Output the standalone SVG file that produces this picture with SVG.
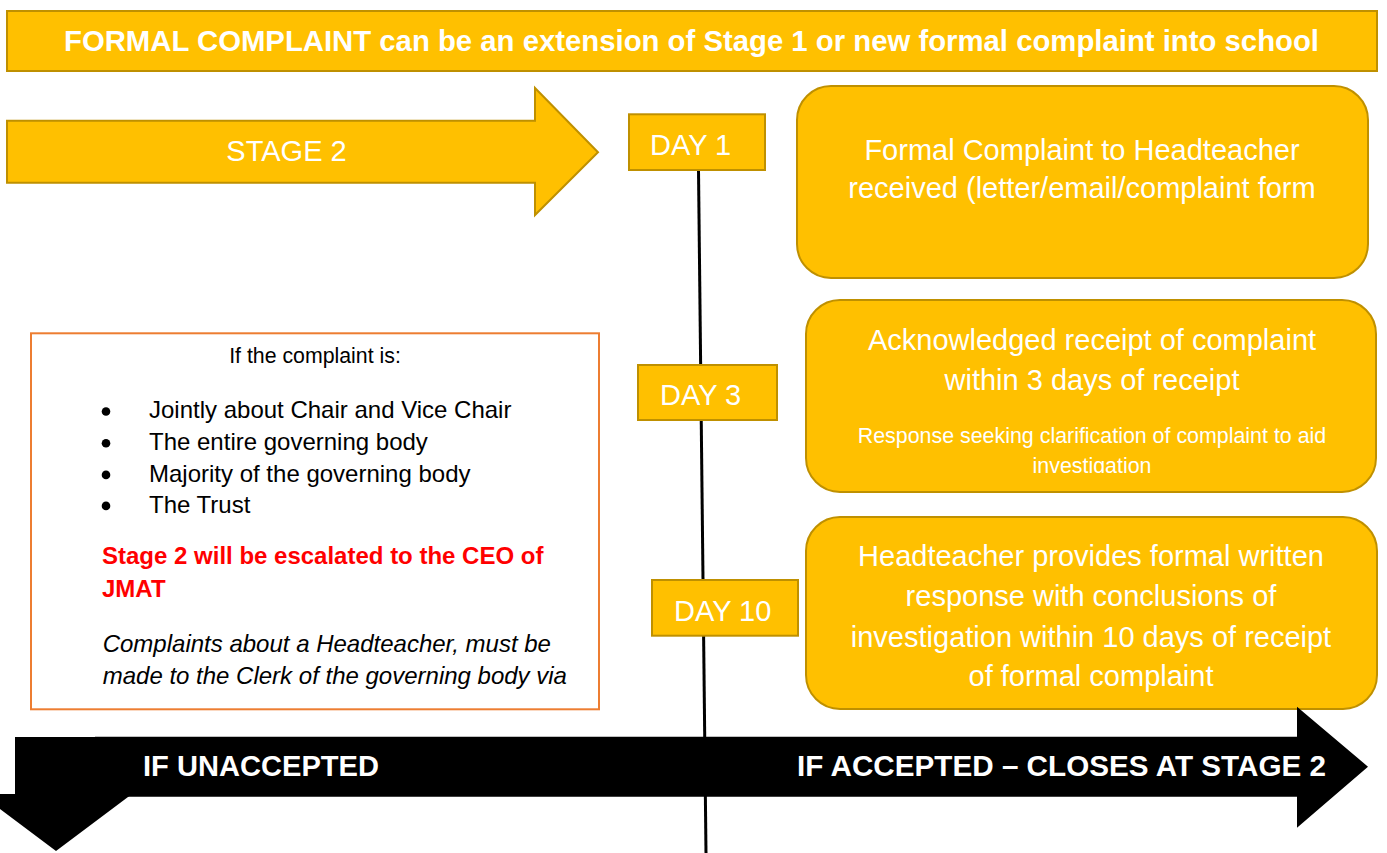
<svg xmlns="http://www.w3.org/2000/svg" width="1387" height="853" viewBox="0 0 1387 853">
<style>
.y{fill:#FFC000;stroke:#BF9000;stroke-width:2}
.w{fill:#FFFFFF;font-family:"Liberation Sans",Arial,sans-serif}
.big{font-size:29px}
.bd{font-weight:bold}
.k{fill:#000000;font-family:"Liberation Sans",Arial,sans-serif}
</style>
<defs>
<clipPath id="clip2"><rect x="806" y="300" width="570" height="173"/></clipPath>
</defs>
<rect width="1387" height="853" fill="#FFFFFF"/>

<g id="connectors">
<line x1="698.5" y1="170" x2="706" y2="853" stroke="#000000" stroke-width="3"/>
</g>

<g id="banner">
<rect class="y" x="7" y="11" width="1370" height="60"/>
<text class="w bd" x="64" y="50.5" font-size="29" textLength="1255" lengthAdjust="spacingAndGlyphs">FORMAL COMPLAINT can be an extension of Stage 1 or new formal complaint into school</text>
</g>

<g id="stage2">
<path class="y" d="M7,120.7 H535 V88 L598,152.3 L535,215 V182.7 H7 Z"/>
<text class="w big" x="286.5" y="160.7" text-anchor="middle">STAGE 2</text>
</g>

<g id="day1">
<rect class="y" x="629" y="114.3" width="136" height="55.7"/>
<text class="w big" x="650" y="155">DAY 1</text>
</g>

<g id="box1">
<rect class="y" x="797" y="86" width="571" height="192" rx="34" ry="34"/>
<text class="w big" x="1082" y="160" text-anchor="middle">Formal Complaint to Headteacher</text>
<text class="w big" x="1082" y="198.3" text-anchor="middle">received (letter/email/complaint form</text>
</g>

<g id="day3">
<rect class="y" x="638" y="365" width="139" height="55"/>
<text class="w big" x="660" y="405">DAY 3</text>
</g>

<g id="box2">
<rect class="y" x="806" y="300" width="570" height="192" rx="34" ry="34"/>
<text class="w big" x="1092" y="350" text-anchor="middle">Acknowledged receipt of complaint</text>
<text class="w big" x="1092" y="390" text-anchor="middle">within 3 days of receipt</text>
<g clip-path="url(#clip2)">
<text class="w" font-size="21.4" x="1092" y="443.3" text-anchor="middle">Response seeking clarification of complaint to aid</text>
<text class="w" font-size="21.4" x="1092" y="472.7" text-anchor="middle">investigation</text>
</g>
</g>

<g id="day10">
<rect class="y" x="652" y="580" width="146" height="55.7"/>
<text class="w big" x="674" y="620.7">DAY 10</text>
</g>

<g id="box3">
<rect class="y" x="806" y="517" width="571" height="192" rx="34" ry="34"/>
<text class="w big" x="1091" y="565.7" text-anchor="middle">Headteacher provides formal written</text>
<text class="w big" x="1091" y="606" text-anchor="middle">response with conclusions of</text>
<text class="w big" x="1091" y="646.7" text-anchor="middle">investigation within 10 days of receipt</text>
<text class="w big" x="1091" y="685.7" text-anchor="middle">of formal complaint</text>
</g>

<g id="info">
<rect x="31" y="333.3" width="568" height="376" fill="#FFFFFF" stroke="#ED7D31" stroke-width="2"/>
<text class="k" font-size="21.3" x="315" y="363.3" text-anchor="middle">If the complaint is:</text>
<g fill="#000000">
<circle cx="106" cy="411.5" r="4.3"/>
<circle cx="106" cy="443.2" r="4.3"/>
<circle cx="106" cy="474.9" r="4.3"/>
<circle cx="106" cy="505.9" r="4.3"/>
</g>
<text class="k" font-size="24" x="149" y="418.3">Jointly about Chair and Vice Chair</text>
<text class="k" font-size="24" x="149" y="450">The entire governing body</text>
<text class="k" font-size="24" x="149" y="481.7">Majority of the governing body</text>
<text class="k" font-size="24" x="149" y="512.7">The Trust</text>
<text font-family="Liberation Sans, Arial, sans-serif" font-weight="bold" fill="#FF0000" font-size="24" x="102" y="564.3">Stage 2 will be escalated to the CEO of</text>
<text font-family="Liberation Sans, Arial, sans-serif" font-weight="bold" fill="#FF0000" font-size="24" x="102" y="596.7">JMAT</text>
<text class="k" font-style="italic" font-size="24" x="102.7" y="651.7">Complaints about a Headteacher, must be</text>
<text class="k" font-style="italic" font-size="24" x="102.7" y="684">made to the Clerk of the governing body via</text>
</g>

<g id="unaccepted">
<path d="M15,737 H97 V794 H132 L56,851 L-20,794 H15 Z" fill="#000000"/>
</g>

<g id="accepted">
<path d="M95,736.7 H1297 V706.7 L1368,766.7 L1297,827.7 V796.7 H95 Z" fill="#000000"/>
<text class="w bd big" x="143" y="776" textLength="236" lengthAdjust="spacingAndGlyphs">IF UNACCEPTED</text>
<text class="w bd big" x="797" y="775.7" textLength="529" lengthAdjust="spacingAndGlyphs">IF ACCEPTED – CLOSES AT STAGE 2</text>
</g>
</svg>
